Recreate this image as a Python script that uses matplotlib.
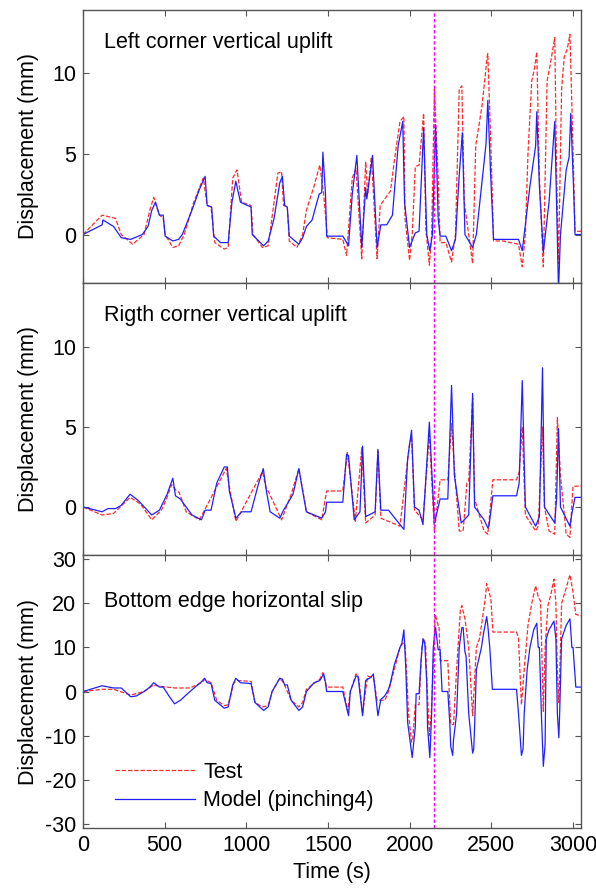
import numpy as np
import matplotlib
matplotlib.use("Agg")
import matplotlib.pyplot as plt

plt.rcParams['font.family'] = ['Liberation Sans', 'DejaVu Sans']
plt.rcParams['font.size'] = 15
plt.rcParams['axes.unicode_minus'] = False

# (time [s], displacement [mm]) breakpoints for each record
left_test = np.array([
    (0, 0.0), (117, 1.2), (199, 1.0), (234, 0.0), (304, -0.6), (374, 0.0), (409, 1.5), (433, 2.3),
    (468, 1.2), (491, 1.0), (503, 0.0), (550, -0.8), (585, -0.7), (620, 0.0), (678, 2.0), (737, 3.5),
    (760, 1.8), (784, 1.7), (807, -0.5), (865, -0.9), (889, -0.8), (917, 3.5), (943, 4.0), (971, 2.0),
    (1029, 1.8), (1041, 0.0), (1099, -0.8), (1134, -0.7), (1170, 2.0), (1193, 3.8), (1216, 3.9),
    (1228, 1.8), (1251, 1.7), (1263, -0.4), (1310, -0.8), (1345, 0.0), (1368, 1.5), (1415, 3.0),
    (1450, 4.3), (1474, 2.5), (1497, -0.2), (1591, -0.3), (1614, -1.3), (1649, 3.5), (1672, 4.1),
    (1707, -1.5), (1731, 4.5), (1743, 2.5), (1766, 4.8), (1801, -1.5), (1820, 1.8), (1848, 2.2),
    (1883, 2.7), (1906, 4.5), (1941, 7.0), (1965, 7.3), (1972, 1.0), (2000, -1.6), (2016, 0.0),
    (2035, 4.2), (2058, 4.3), (2086, 7.5), (2100, 0.3), (2121, -1.9), (2135, 0.0), (2152, 9.0),
    (2175, 3.5), (2187, -0.5), (2222, -0.5), (2257, -1.7), (2281, 0.0), (2304, 9.0), (2320, 9.2),
    (2335, 2.0), (2386, -1.8), (2405, 5.5), (2444, 8.0), (2475, 11.0), (2479, 11.2), (2498, 5.5),
    (2514, -0.4), (2573, -0.4), (2667, -0.6), (2690, -2.0), (2709, 0.0), (2725, 5.0), (2748, 9.5),
    (2765, 10.3), (2779, 11.3), (2795, 3.5), (2819, -2.0), (2842, 9.5), (2861, 10.5), (2889, 12.2),
    (2900, 4.0), (2912, -1.8), (2931, 9.0), (2947, 11.0), (2966, 11.5), (2982, 12.4), (2999, 6.0),
    (3013, 0.2), (3050, 0.2),
])
left_model = np.array([
    (0, 0.0), (117, 0.6), (122, 0.9), (187, 0.5), (234, -0.2), (292, -0.3), (363, 0.0), (398, 0.5),
    (421, 1.5), (444, 2.0), (468, 1.2), (491, 1.2), (503, -0.1), (550, -0.4), (585, -0.3), (608, 0.0),
    (667, 1.5), (713, 2.8), (748, 3.6), (760, 1.8), (788, 1.7), (800, -0.1), (842, -0.5), (889, -0.5),
    (912, 2.0), (936, 3.3), (964, 2.0), (1029, 1.7), (1036, 0.0), (1106, -0.7), (1134, -0.4),
    (1170, 1.0), (1205, 3.2), (1221, 3.6), (1235, 1.8), (1251, 1.7), (1263, -0.1), (1322, -0.6),
    (1345, -0.2), (1368, 0.5), (1403, 0.9), (1446, 2.5), (1462, 2.6), (1469, 5.1), (1485, 2.5),
    (1492, -0.1), (1591, -0.1), (1626, -0.7), (1649, 2.5), (1677, 4.9), (1707, -0.8), (1731, 2.9),
    (1738, 2.2), (1773, 4.9), (1801, -0.8), (1824, 0.6), (1860, 0.6), (1895, 1.2), (1930, 5.5),
    (1958, 7.0), (1969, 2.0), (2000, -0.8), (2035, 0.1), (2058, 0.2), (2086, 6.6), (2105, 0.0),
    (2124, -1.0), (2140, 0.0), (2159, 6.8), (2175, 1.0), (2187, -0.1), (2222, -0.1), (2257, -1.0),
    (2281, -0.3), (2304, 3.7), (2323, 6.3), (2339, 0.0), (2386, -0.8), (2409, 0.0), (2468, 5.6),
    (2479, 8.3), (2496, 3.8), (2514, -0.3), (2667, -0.3), (2690, -1.0), (2737, 3.0), (2772, 5.5),
    (2779, 7.6), (2795, 3.0), (2819, -1.1), (2854, 2.0), (2889, 7.0), (2912, -3.5), (2924, 0.0),
    (2959, 4.0), (2977, 4.8), (2987, 7.5), (3006, 2.4), (3013, 0.0), (3050, 0.0),
])

right_test = np.array([
    (0, 0.0), (117, -0.5), (187, -0.4), (288, 0.6), (351, 0.2), (421, -0.8), (480, -0.2), (515, 0.6),
    (543, 1.4), (573, 1.0), (589, 0.9), (632, -0.3), (713, -0.8), (877, 2.4), (901, 1.0), (936, -0.9),
    (1099, 2.2), (1123, 1.1), (1134, 1.0), (1216, -0.8), (1275, 0.8), (1322, 2.4), (1345, 1.1),
    (1368, -0.3), (1462, -0.8), (1492, 1.0), (1591, 1.0), (1619, 3.4), (1668, -0.9), (1707, 3.7),
    (1731, -1.0), (1789, -0.5), (1806, 3.5), (1824, -0.7), (1941, -1.2), (2000, 4.0), (2012, 4.4),
    (2030, -0.2), (2082, -0.8), (2121, 4.5), (2152, -1.5), (2187, 1.7), (2234, 1.7), (2257, 5.2),
    (2274, 2.5), (2304, -1.5), (2328, -1.5), (2351, 1.5), (2362, 1.6), (2386, 6.8), (2398, 0.5),
    (2456, -1.5), (2479, -1.7), (2510, 1.7), (2655, 1.7), (2671, 2.2), (2690, 5.0), (2709, -0.5),
    (2772, -1.5), (2788, -1.2), (2814, 5.0), (2826, 0.0), (2854, -1.5), (2889, -1.7), (2905, 5.6),
    (2924, 2.0), (2959, -1.7), (2982, -1.9), (3001, 1.3), (3050, 1.3),
])
right_model = np.array([
    (0, 0.0), (117, -0.3), (152, -0.1), (199, -0.1), (234, 0.1), (288, 0.8), (339, 0.4), (421, -0.5),
    (468, -0.2), (515, 0.8), (550, 1.8), (566, 0.7), (596, 0.5), (667, -0.5), (725, -0.8), (748, -0.2),
    (784, -0.2), (819, 1.5), (865, 2.5), (884, 2.5), (896, 1.0), (936, -0.7), (971, -0.3), (1029, -0.3),
    (1076, 1.5), (1104, 2.4), (1123, 1.0), (1146, -0.3), (1205, -0.7), (1228, -0.2), (1286, 0.8),
    (1322, 2.4), (1345, 1.0), (1368, -0.3), (1462, -0.7), (1485, -0.3), (1492, 0.3), (1591, 0.3),
    (1614, 3.3), (1626, 3.2), (1661, -0.8), (1696, -0.3), (1712, 3.8), (1731, -0.6), (1789, -0.3),
    (1806, 3.6), (1824, -0.2), (1871, -0.2), (1965, -1.4), (1988, 3.0), (2012, 4.8), (2030, 0.0),
    (2058, -0.2), (2082, -1.1), (2121, 5.3), (2152, -1.0), (2164, -0.5), (2187, 0.5), (2234, 0.5),
    (2257, 7.6), (2274, 2.0), (2316, -1.0), (2362, -0.5), (2386, 7.1), (2398, 0.0), (2456, -0.8),
    (2479, -1.3), (2486, -1.2), (2510, 0.7), (2655, 0.7), (2671, 1.5), (2690, 7.9), (2709, 0.0),
    (2772, -1.2), (2795, -0.6), (2814, 8.7), (2826, 0.0), (2889, -1.0), (2900, 0.5), (2912, 4.9),
    (2924, 0.0), (2982, -1.2), (2994, -0.4), (3013, 0.6), (3050, 0.6),
])

slip_test = np.array([
    (0, 0.0), (117, 0.5), (187, 0.5), (292, -0.8), (374, 0.0), (433, 1.5), (468, 1.2), (515, 1.0),
    (561, 0.8), (655, 0.8), (725, 2.0), (748, 2.8), (767, 2.3), (784, 2.0), (819, -2.0), (865, -3.2),
    (889, -3.0), (924, 2.0), (947, 2.5), (1029, 2.3), (1053, -2.5), (1099, -3.5), (1134, -3.2),
    (1158, 0.0), (1205, 3.0), (1228, 2.0), (1275, -2.0), (1322, -3.5), (1345, -2.5), (1368, 0.5),
    (1450, 2.8), (1469, 4.3), (1492, 1.0), (1591, 1.0), (1621, -4.5), (1637, 0.0), (1672, 4.0),
    (1689, 3.0), (1712, -5.0), (1743, 3.5), (1778, 3.2), (1801, -2.0), (1848, -2.0), (1871, 0.0),
    (1906, 5.0), (1941, 10.0), (1958, 11.0), (1972, 10.5), (1981, 5.0), (1993, -5.0), (2012, -11.5),
    (2019, -11.0), (2035, -3.0), (2058, -3.0), (2075, 10.0), (2086, 12.0), (2098, 10.5), (2105, 3.0),
    (2121, -10.0), (2133, -5.0), (2157, 17.5), (2175, 15.0), (2180, 15.0), (2187, 7.0), (2234, 7.0),
    (2252, -7.5), (2269, -7.5), (2288, 5.0), (2311, 18.5), (2320, 19.5), (2339, 16.5), (2362, 10.0),
    (2386, -5.5), (2398, 2.5), (2409, 10.0), (2428, 12.0), (2444, 16.0), (2463, 21.0), (2472, 24.5),
    (2491, 22.0), (2498, 21.0), (2510, 13.5), (2655, 13.5), (2667, 12.0), (2685, -3.0), (2702, 5.0),
    (2725, 15.0), (2748, 20.0), (2772, 24.0), (2788, 21.5), (2802, 20.5), (2819, -4.5), (2830, 10.0),
    (2847, 19.5), (2865, 22.0), (2884, 25.5), (2896, 20.0), (2905, 5.0), (2914, -2.5), (2924, 10.0),
    (2931, 20.0), (2959, 23.5), (2982, 26.5), (2999, 23.0), (3018, 17.5), (3050, 17.2),
])
slip_model = np.array([
    (0, 0.0), (117, 1.3), (187, 0.8), (234, 0.8), (292, -1.2), (327, -1.0), (374, 0.0), (409, 1.0),
    (433, 2.0), (468, 1.0), (491, 1.0), (526, -1.0), (561, -2.8), (596, -2.0), (655, 0.0), (725, 2.2),
    (744, 3.0), (760, 2.0), (784, 1.8), (807, -2.0), (865, -3.8), (889, -3.5), (917, 1.5), (936, 3.0),
    (964, 2.0), (1029, 1.8), (1053, -2.5), (1106, -4.3), (1134, -3.5), (1158, 0.0), (1205, 3.0),
    (1221, 2.8), (1235, 1.5), (1251, 1.5), (1275, -2.0), (1322, -4.3), (1345, -3.5), (1368, 0.0),
    (1415, 2.0), (1450, 2.5), (1474, 4.0), (1485, 2.0), (1492, 0.0), (1591, 0.0), (1626, -5.5),
    (1637, 0.0), (1672, 3.5), (1684, 3.5), (1712, -5.5), (1731, 2.5), (1766, 3.3), (1778, 4.0),
    (1806, -5.5), (1824, -1.8), (1848, -1.0), (1871, 0.5), (1883, 2.0), (1906, 6.0), (1941, 10.0),
    (1953, 11.0), (1965, 14.0), (1976, 6.0), (1988, -7.0), (2012, -14.0), (2016, -15.0), (2035, -8.0),
    (2040, -0.5), (2058, -0.5), (2070, 7.0), (2082, 12.0), (2093, 11.0), (2105, 2.0), (2110, -8.0),
    (2124, -15.0), (2135, -5.0), (2145, 10.0), (2159, 14.5), (2175, 9.5), (2187, 9.5), (2199, 0.0),
    (2234, 0.0), (2246, -7.0), (2252, -12.5), (2264, -14.5), (2269, -11.0), (2288, -5.0), (2304, 10.0),
    (2320, 14.5), (2328, 14.5), (2339, 9.0), (2346, 8.0), (2362, -5.0), (2386, -14.0), (2393, -13.0),
    (2398, -8.0), (2409, 5.0), (2428, 8.0), (2440, 10.0), (2452, 13.0), (2472, 17.0), (2479, 15.0),
    (2491, 10.0), (2507, 0.5), (2655, 0.5), (2667, -5.0), (2685, -14.5), (2695, -13.0), (2702, -5.0),
    (2720, 5.0), (2737, 10.0), (2760, 14.0), (2779, 15.5), (2788, 10.0), (2795, 10.0), (2807, -5.0),
    (2819, -17.0), (2830, -12.0), (2837, 12.0), (2854, 14.0), (2884, 16.0), (2896, 12.0), (2905, -5.0),
    (2914, -10.5), (2919, -5.0), (2931, 12.0), (2959, 15.0), (2982, 16.5), (2994, 10.0), (3001, 10.0),
    (3018, 1.0), (3050, 1.0),
])

panel_titles = ["Left corner vertical uplift", "Rigth corner vertical uplift", "Bottom edge horizontal slip"]
panel_ylims = [(-3, 13.9), (-3, 14), (-31, 31)]
panel_yticks = [[0, 5, 10], [0, 5, 10], [-30, -20, -10, 0, 10, 20, 30]]
x_ticks = [0, 500, 1000, 1500, 2000, 2500, 3000]
t_marker = 2148  # time of the dashed vertical marker

frame_color = '#555555'
test_color = '#ff2a2a'
model_color = '#1f1fff'

fig = plt.figure(figsize=(5.96, 8.91), dpi=100)
# axes boxes in figure fractions: [left, bottom, width, height]
boxes = [
    [0.1393, 0.6824, 0.8356, 0.3064],
    [0.1393, 0.3771, 0.8356, 0.3053],
    [0.1393, 0.0707, 0.8356, 0.3064],
]
title_y = [0.88, 0.882, 0.83]

records = [(left_test, left_model), (right_test, right_model), (slip_test, slip_model)]
axes = []
for k, box in enumerate(boxes):
    ax = fig.add_axes(box)
    test, model = records[k]
    ax.plot(test[:, 0], test[:, 1], color=test_color, lw=0.9, ls=(0, (3.5, 1.5)), label='Test')
    ax.plot(model[:, 0], model[:, 1], color=model_color, lw=0.9, label='Model (pinching4)')
    ax.axvline(t_marker, color='#ff00ff', lw=1.0, ls=(0, (2.5, 1.5)))

    ax.set_xlim(0, 3050)
    ax.set_ylim(*panel_ylims[k])
    ax.set_yticks(panel_yticks[k])
    ax.set_xticks(x_ticks)
    ax.tick_params(direction='in', top=True, right=True, length=4.5, width=0.8,
                   color=frame_color, labelsize=15.5, pad=5)
    for sp in ax.spines.values():
        sp.set_color(frame_color)
        sp.set_linewidth(1.0)
    if k < 2:
        ax.tick_params(labelbottom=False)
    ax.set_ylabel('Displacement (mm)', fontsize=15.5)
    ax.yaxis.set_label_coords(-0.088, 0.5)
    ax.text(0.042, title_y[k], panel_titles[k], transform=ax.transAxes,
            fontsize=15.5, ha='left', va='center')
    axes.append(ax)

axes[2].set_xlabel('Time (s)', fontsize=15.5, labelpad=4)
axes[2].legend(loc='center left', bbox_to_anchor=(0.064, 0.152), frameon=False,
               fontsize=15.5, handlelength=3.7, handletextpad=0.4, labelspacing=0.35,
               borderpad=0, borderaxespad=0)

fig.savefig('out.png', dpi=100)
